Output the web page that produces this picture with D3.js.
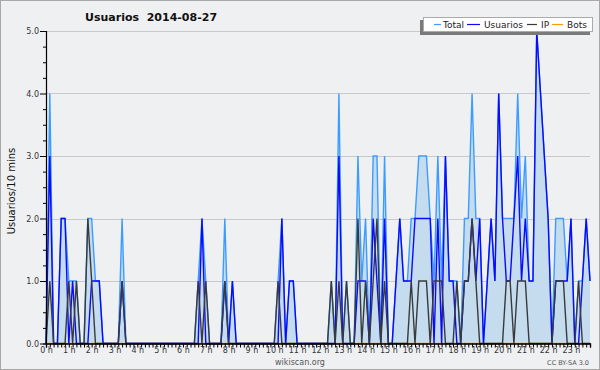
<!DOCTYPE html>
<html>
<head>
<meta charset="utf-8">
<script src="https://cdn.jsdelivr.net/npm/d3@7/dist/d3.min.js"></script>
<style>
  body { margin: 0; padding: 0; background: #eff0f2; }
  #chart { width: 600px; height: 370px; }
  text { font-family: "DejaVu Sans", sans-serif; }
</style>
</head>
<body>
<div id="chart"></div>
<script>
// Usuarios per 10 minutes - wikiscan daily chart
///////////////////////////////////////////////////////////// ! Data
// one value per 10 minute slot, 00:00 -> 23:50
const totalVals = [
  0, 4, 0, 0, 2, 2, 1, 1, 1, 0, 0, 2, 2, 1, 1, 0, 0, 0, 0, 0, 2, 0, 0, 0,
  0, 0, 0, 0, 0, 0, 0, 0, 0, 0, 0, 0, 0, 0, 0, 0, 1, 2, 1, 0, 0, 0, 0, 2,
  0, 1, 0, 0, 0, 0, 0, 0, 0, 0, 0, 0, 0, 1, 2, 0, 1, 1, 0, 0, 0, 0, 0, 0,
  0, 0, 0, 1, 0, 4, 0, 1, 0, 0, 3, 1, 2, 0, 3, 3, 0, 3, 0, 0, 1, 2, 1, 1,
  2, 2, 3, 3, 3, 2, 1, 3, 1, 3, 1, 1, 1, 0, 2, 2, 4, 2, 2, 0, 1, 2, 1, 4,
  2, 2, 2, 2, 4, 2, 3, 1, 1, 5, 4, 3, 2, 0, 2, 2, 2, 1, 2, 0, 1, 1, 2, 1
];
const usuariosVals = [
  0, 3, 0, 0, 2, 2, 0, 1, 0, 0, 0, 0, 1, 1, 1, 0, 0, 0, 0, 0, 1, 0, 0, 0,
  0, 0, 0, 0, 0, 0, 0, 0, 0, 0, 0, 0, 0, 0, 0, 0, 0, 2, 0, 0, 0, 0, 0, 1,
  0, 1, 0, 0, 0, 0, 0, 0, 0, 0, 0, 0, 0, 0, 2, 0, 1, 1, 0, 0, 0, 0, 0, 0,
  0, 0, 0, 0, 0, 3, 0, 0, 0, 0, 1, 1, 1, 0, 2, 1, 0, 2, 0, 0, 1, 2, 1, 1,
  1, 2, 2, 2, 2, 2, 0, 2, 0, 3, 1, 1, 0, 0, 1, 1, 2, 1, 2, 0, 1, 2, 1, 4,
  2, 1, 1, 2, 3, 1, 2, 1, 1, 5, 4, 3, 2, 0, 1, 1, 1, 1, 2, 0, 0, 1, 2, 1
];
const ipVals = [
  0, 1, 0, 0, 0, 0, 1, 0, 1, 0, 0, 2, 1, 0, 0, 0, 0, 0, 0, 0, 1, 0, 0, 0,
  0, 0, 0, 0, 0, 0, 0, 0, 0, 0, 0, 0, 0, 0, 0, 0, 1, 0, 1, 0, 0, 0, 0, 1,
  0, 0, 0, 0, 0, 0, 0, 0, 0, 0, 0, 0, 0, 1, 0, 0, 0, 0, 0, 0, 0, 0, 0, 0,
  0, 0, 0, 1, 0, 1, 0, 1, 0, 0, 2, 0, 1, 0, 1, 2, 0, 1, 0, 0, 0, 0, 0, 0,
  1, 0, 1, 1, 1, 0, 1, 1, 1, 0, 0, 0, 1, 0, 1, 1, 2, 1, 0, 0, 0, 0, 0, 0,
  0, 1, 1, 0, 1, 1, 1, 0, 0, 0, 0, 0, 0, 0, 1, 1, 1, 0, 0, 0, 1, 0, 0, 0
];
const botsVals = [
  0, 0, 0, 0, 0, 0, 0, 0, 0, 0, 0, 0, 0, 0, 0, 0, 0, 0, 0, 0, 0, 0, 0, 0,
  0, 0, 0, 0, 0, 0, 0, 0, 0, 0, 0, 0, 0, 0, 0, 0, 0, 0, 0, 0, 0, 0, 0, 0,
  0, 0, 0, 0, 0, 0, 0, 0, 0, 0, 0, 0, 0, 0, 0, 0, 0, 0, 0, 0, 0, 0, 0, 0,
  0, 0, 0, 0, 0, 0, 0, 0, 0, 0, 0, 0, 0, 0, 0, 0, 0, 0, 0, 0, 0, 0, 0, 0,
  0, 0, 0, 0, 0, 0, 0, 0, 0, 0, 0, 0, 0, 0, 0, 0, 0, 0, 0, 0, 0, 0, 0, 0,
  0, 0, 0, 0, 0, 0, 0, 0, 0, 0, 0, 0, 0, 0, 0, 0, 0, 0, 0, 0, 0, 0, 0, 0
];
const seriesNames = ["Total", "Usuarios", "IP", "Bots"];
const yTickVals = [0, 1, 2, 3, 4, 5];
const hourLabels = [
  "0 h", "1 h", "2 h", "3 h", "4 h", "5 h", "6 h", "7 h", "8 h", "9 h", "10 h", "11 h",
  "12 h", "13 h", "14 h", "15 h", "16 h", "17 h", "18 h", "19 h", "20 h", "21 h", "22 h", "23 h"
];

(function () {
  ///////////////////////////////////////////////////////////// ! Setup
  const fullWidth = 600;
  const fullHeight = 370;
  const plot = { left: 46, right: 590, top: 31, bottom: 343.5 };

  const colors = {
    Total: "#3d9cff",
    Usuarios: "#0a0aff",
    IP: "#3a3a3a",
    Bots: "#ff9900",
    fill: "#c5dcef",
    grid: "#c9c9c9",
  };

  const svg = d3
    .select("#chart")
    .append("svg")
    .attr("width", fullWidth)
    .attr("height", fullHeight)
    .style("display", "block");

  // background + outer frame
  svg
    .append("rect")
    .attr("x", 0.5)
    .attr("y", 0.5)
    .attr("width", fullWidth - 1)
    .attr("height", fullHeight - 1)
    .attr("fill", "#eff0f2")
    .attr("stroke", "#a8a8a8");

  ///////////////////////////////////////////////////////////// ! Scales
  const n = totalVals.length;
  const xScale = d3
    .scaleLinear()
    .domain([0, n - 1])
    .range([plot.left, plot.right]);

  const yScale = d3
    .scaleLinear()
    .domain([0, 5])
    .range([plot.bottom, plot.top]);

  ///////////////////////////////////////////////////////////// ! Grid
  svg
    .append("g")
    .selectAll("line")
    .data(yTickVals.filter((d) => d > 0))
    .enter()
    .append("line")
    .attr("x1", plot.left)
    .attr("x2", plot.right)
    .attr("y1", (d) => Math.round(yScale(d)) + 0.5)
    .attr("y2", (d) => Math.round(yScale(d)) + 0.5)
    .attr("stroke", colors.grid)
    .attr("stroke-width", 1);

  ///////////////////////////////////////////////////////////// ! Series
  const line = (vals) =>
    d3
      .line()
      .x((d, i) => xScale(i))
      .y((d) => yScale(d))(vals);

  const area = d3
    .area()
    .x((d, i) => xScale(i))
    .y0(yScale(0))
    .y1((d) => yScale(d));

  svg
    .append("path")
    .attr("d", area(totalVals))
    .attr("fill", colors.fill)
    .attr("stroke", "none");

  const drawLine = (vals, color) =>
    svg
      .append("path")
      .attr("d", line(vals))
      .attr("fill", "none")
      .attr("stroke", color)
      .attr("stroke-width", 1.4)
      .attr("stroke-linejoin", "miter");

  drawLine(botsVals, colors.Bots);
  drawLine(totalVals, colors.Total);
  drawLine(usuariosVals, colors.Usuarios);
  drawLine(ipVals, colors.IP);

  ///////////////////////////////////////////////////////////// ! Axes
  // Y axis with quarter minor ticks
  const yAxis = svg
    .append("g")
    .attr("transform", `translate(${plot.left},0)`)
    .call(
      d3
        .axisLeft(yScale)
        .tickValues(d3.range(0, 21).map((k) => k / 4))
        .tickSize(3)
        .tickFormat((d) => (Number.isInteger(d) ? d3.format(".1f")(d) : ""))
    );
  yAxis.select(".domain").attr("stroke", "#000").attr("stroke-width", 1.2);
  yAxis
    .selectAll(".tick line")
    .attr("x2", (d) => (Number.isInteger(d) ? -6 : -3))
    .attr("stroke", "#000");
  yAxis
    .selectAll(".tick text")
    .attr("x", -7)
    .attr("font-size", 8)
    .attr("fill", "#333");

  // X axis, one tick per 10 minutes, labels on the hour
  const xAxis = svg
    .append("g")
    .attr("transform", `translate(0,${plot.bottom})`)
    .call(
      d3
        .axisBottom(xScale)
        .tickValues(d3.range(0, n))
        .tickSize(4)
        .tickFormat((d) => (d % 6 === 0 ? hourLabels[d / 6] : ""))
    );
  xAxis.select(".domain").attr("stroke", "#000").attr("stroke-width", 1.4);
  xAxis.selectAll(".tick line").attr("stroke", "#000");
  xAxis
    .selectAll(".tick text")
    .attr("y", 4)
    .attr("font-size", 8)
    .attr("fill", "#333");

  ///////////////////////////////////////////////////////////// ! Texts
  svg
    .append("text")
    .attr("x", 85)
    .attr("y", 21)
    .attr("font-size", 11)
    .attr("font-weight", "bold")
    .attr("fill", "#111")
    .style("white-space", "pre")
    .text("Usuarios  2014-08-27");

  svg
    .append("text")
    .attr("transform", "rotate(-90)")
    .attr("x", -191)
    .attr("y", 15)
    .attr("text-anchor", "middle")
    .attr("font-size", 10)
    .attr("fill", "#111")
    .text("Usuarios/10 mins");

  svg
    .append("text")
    .attr("x", 300)
    .attr("y", 365)
    .attr("text-anchor", "middle")
    .attr("font-size", 8)
    .attr("fill", "#555")
    .text("wikiscan.org");

  svg
    .append("text")
    .attr("x", 589)
    .attr("y", 365)
    .attr("text-anchor", "end")
    .attr("font-size", 6.5)
    .attr("fill", "#555")
    .text("CC BY-SA 3.0");

  ///////////////////////////////////////////////////////////// ! Legend
  const legend = svg.append("g");
  legend
    .append("rect")
    .attr("x", 420)
    .attr("y", 20)
    .attr("width", 170)
    .attr("height", 15)
    .attr("fill", "#7a7a7a");
  legend
    .append("rect")
    .attr("x", 423.5)
    .attr("y", 17.5)
    .attr("width", 169)
    .attr("height", 14)
    .attr("fill", "#fff")
    .attr("stroke", "#aaa");

  const legendItems = [
    { x1: 434, x2: 441, tx: 443 },
    { x1: 467, x2: 480, tx: 484 },
    { x1: 527, x2: 537, tx: 541 },
    { x1: 552, x2: 563, tx: 567 },
  ];
  seriesNames.forEach((name, k) => {
    const it = legendItems[k];
    legend
      .append("line")
      .attr("x1", it.x1)
      .attr("x2", it.x2)
      .attr("y1", 24.5)
      .attr("y2", 24.5)
      .attr("stroke", colors[name])
      .attr("stroke-width", 1.2);
    legend
      .append("text")
      .attr("x", it.tx)
      .attr("y", 28)
      .attr("font-size", 9)
      .attr("fill", "#222")
      .text(name);
  });
})();
</script>
</body>
</html>
